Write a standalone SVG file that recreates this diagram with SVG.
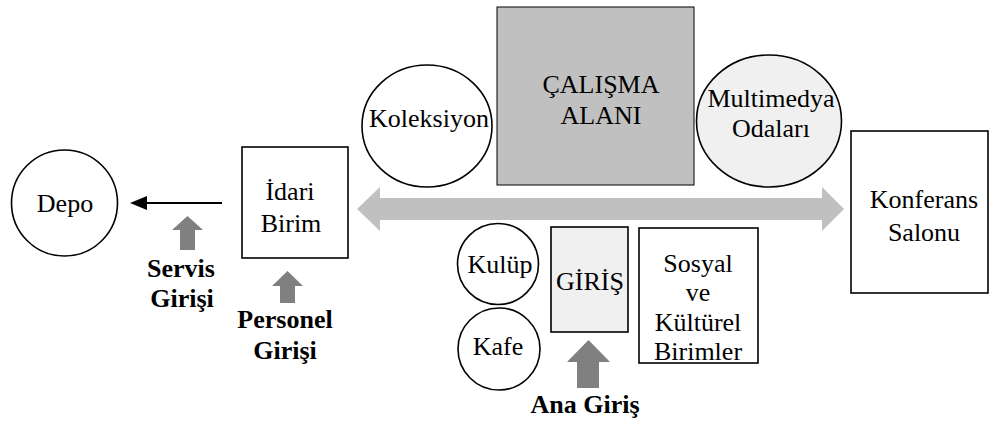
<svg xmlns="http://www.w3.org/2000/svg" width="989" height="423" viewBox="0 0 989 423">
<style>
.n{fill:#fff;stroke:#000;stroke-width:1.6}
.g{fill:#f0f0f0;stroke:#000;stroke-width:1.6}
.d{fill:#c0c0c0;stroke:#000;stroke-width:1}
.t{font-size:26px;fill:#000;text-anchor:middle}
.b{font-weight:bold}
.ga{fill:#808080}
.la{fill:#c0c0c0}
</style>
<g id="connectors">
<path d="M222,203 L146,203" stroke="#000" stroke-width="2.2" fill="none"/>
<path d="M130,203 L147,196 L147,210 Z" fill="#000"/>
<path class="la" d="M357,209 L380,187 L380,198 L822,198 L822,187 L844,209 L822,231 L822,220 L380,220 L380,231 Z"/>
<path class="ga" d="M187.5,216 L203,230 L195,230 L195,250 L180,250 L180,230 L172,230 Z"/>
<path class="ga" d="M287.5,271 L303,286 L295,286 L295,303 L280,303 L280,286 L272,286 Z"/>
<path class="ga" d="M588.5,340 L610,362 L599,362 L599,388 L577,388 L577,362 L567,362 Z"/>
</g>
<g font-family="Liberation Serif, Times New Roman, Times, serif">
<g id="depo"><circle class="n" cx="64.5" cy="203" r="53"/><text class="t" x="65" y="212">Depo</text></g>
<g id="idari"><rect class="n" x="242" y="147" width="106" height="111"/><text class="t" x="290" y="200">İdari</text><text class="t" x="291" y="232">Birim</text></g>
<g id="servis"><text class="t b" x="181" y="277">Servis</text><text class="t b" x="182" y="307">Girişi</text></g>
<g id="personel"><text class="t b" x="285" y="328">Personel</text><text class="t b" x="285" y="359">Girişi</text></g>
<g id="koleksiyon"><ellipse class="n" cx="427" cy="126" rx="65" ry="61"/><text class="t" x="429" y="127">Koleksiyon</text></g>
<g id="calisma"><rect class="d" x="497" y="7" width="197" height="178"/><text class="t" x="601" y="93">ÇALIŞMA</text><text class="t" x="601" y="124">ALANI</text></g>
<g id="multimedya"><ellipse class="g" cx="769" cy="121" rx="72.5" ry="66"/><text class="t" x="771" y="107">Multimedya</text><text class="t" x="771" y="137">Odaları</text></g>
<g id="konferans"><rect class="n" x="851" y="131" width="137" height="162"/><text class="t" x="924" y="208">Konferans</text><text class="t" x="924" y="241">Salonu</text></g>
<g id="kulup"><circle class="n" cx="498" cy="264" r="40.5"/><text class="t" x="500" y="273">Kulüp</text></g>
<g id="kafe"><circle class="n" cx="499" cy="349" r="41"/><text class="t" x="498" y="355">Kafe</text></g>
<g id="giris"><rect class="g" x="551" y="227" width="77" height="105"/><text class="t" x="590" y="290">GİRİŞ</text></g>
<g id="sosyal"><rect class="n" x="639" y="228" width="119" height="135"/><text class="t" x="698" y="272">Sosyal</text><text class="t" x="698" y="301">ve</text><text class="t" x="698" y="331">Kültürel</text><text class="t" x="698" y="360">Birimler</text></g>
<g id="ana"><text class="t b" x="585" y="413">Ana Giriş</text></g>
</g>
</svg>
